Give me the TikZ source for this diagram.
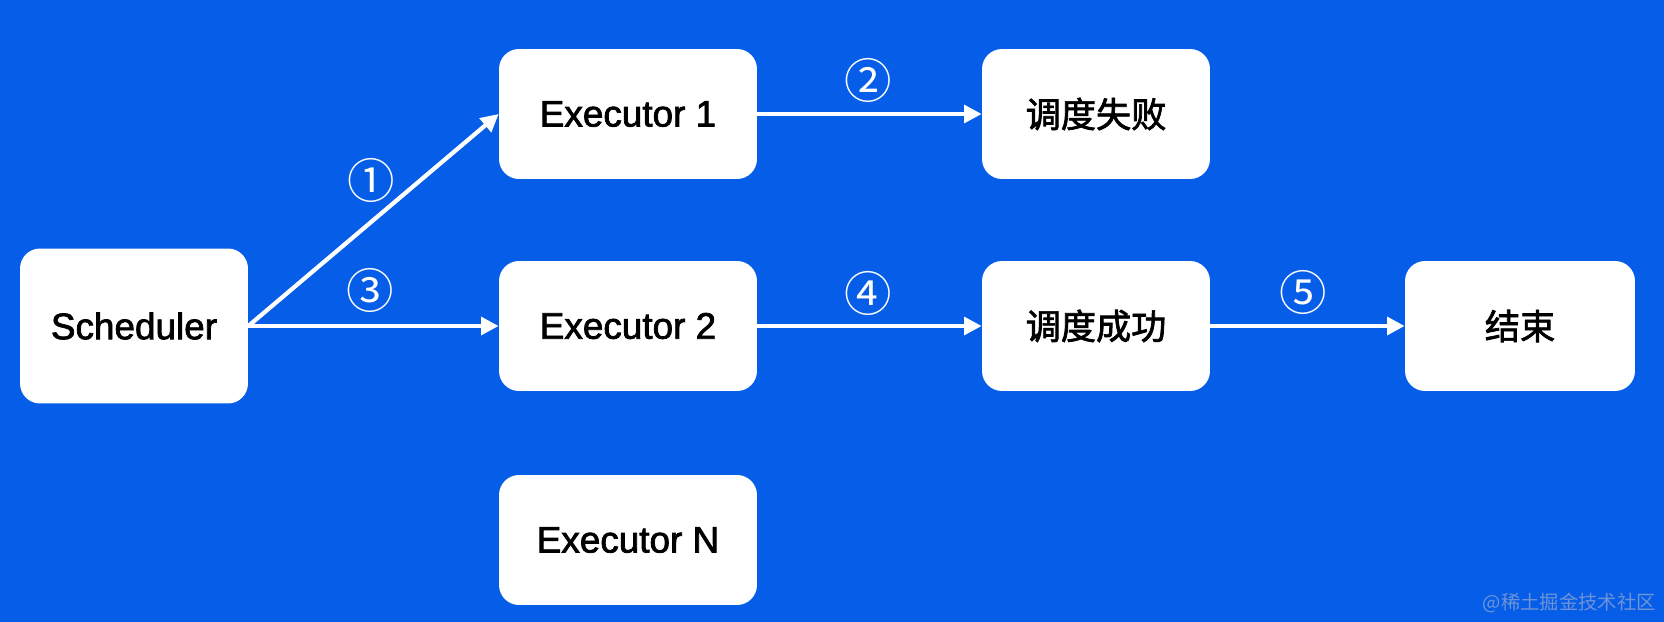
\documentclass[tikz,border=0pt]{standalone}
\usepackage{fontspec}
\setmainfont{Liberation Sans}
\newfontfamily\cjk{Noto Sans CJK SC}
\newfontfamily\boxfont[FakeBold=2]{Liberation Sans}
\newfontfamily\cjkbox[FakeBold=2]{Noto Sans CJK SC}
\usepackage{tikz}
\usetikzlibrary{arrows.meta, positioning}
\definecolor{SchedBlue}{HTML}{065EE8}
\definecolor{MarkGray}{HTML}{6F93D6}

\tikzset{
    stagebox/.style={draw=none, fill=white, rounded corners=0.4cm, text=black,
        minimum width=4.56cm, minimum height=2.6cm, inner sep=0pt},
    flow/.style={white, line width=2.4pt, -{Triangle[length=10pt, width=10pt]}},
    stepnum/.style={text=white, font=\cjk\fontsize{27}{27}\selectfont, inner sep=0pt}
}

\begin{document}
\begin{tikzpicture}[x=0.02cm, y=-0.02cm]
            \fill[SchedBlue] (0,0) rectangle (1664,622);
            \useasboundingbox (0,0) rectangle (1664,622);
            % boxes
            \node[stagebox, minimum height=3.1cm, font=\boxfont\fontsize{21}{21}\selectfont] (sched) at (134,326) {Scheduler};
            \node[stagebox, minimum width=5.16cm, font=\boxfont\fontsize{21}{21}\selectfont] (exec1) at (628,114) {Executor 1};
            \node[stagebox, minimum width=5.16cm, font=\boxfont\fontsize{21}{21}\selectfont] (exec2) at (628,326) {Executor 2};
            \node[stagebox, minimum width=5.16cm, font=\boxfont\fontsize{21}{21}\selectfont] (execN) at (628,540) {Executor N};
            \node[stagebox, font=\cjkbox\fontsize{20}{20}\selectfont] (fail) at (1096,114) {调度失败};
            \node[stagebox, font=\cjkbox\fontsize{20}{20}\selectfont] (ok) at (1096,326) {调度成功};
            \node[stagebox, minimum width=4.6cm, font=\cjkbox\fontsize{20}{20}\selectfont] (done) at (1520,326) {结束};
            % arrows
            \draw[flow] (sched.east) -- (exec1.west);
            \draw[flow] (sched.east) -- (exec2.west);
            \draw[flow] (exec1.east) -- (fail.west);
            \draw[flow] (exec2.east) -- (ok.west);
            \draw[flow] (ok.east) -- (done.west);
            % step numbers
            \node[stepnum] (s1) at (371,180) {①};
            \node[stepnum] (s2) at (868,80) {②};
            \node[stepnum] (s3) at (370,290) {③};
            \node[stepnum] (s4) at (868,293) {④};
            \node[stepnum] (s5) at (1303,292) {⑤};
            \node[text=MarkGray, font=\cjk\fontsize{11}{11}\selectfont, anchor=east, inner sep=0pt] (mark) at (1656,603) {@稀土掘金技术社区};
        \end{tikzpicture}
\end{document}
